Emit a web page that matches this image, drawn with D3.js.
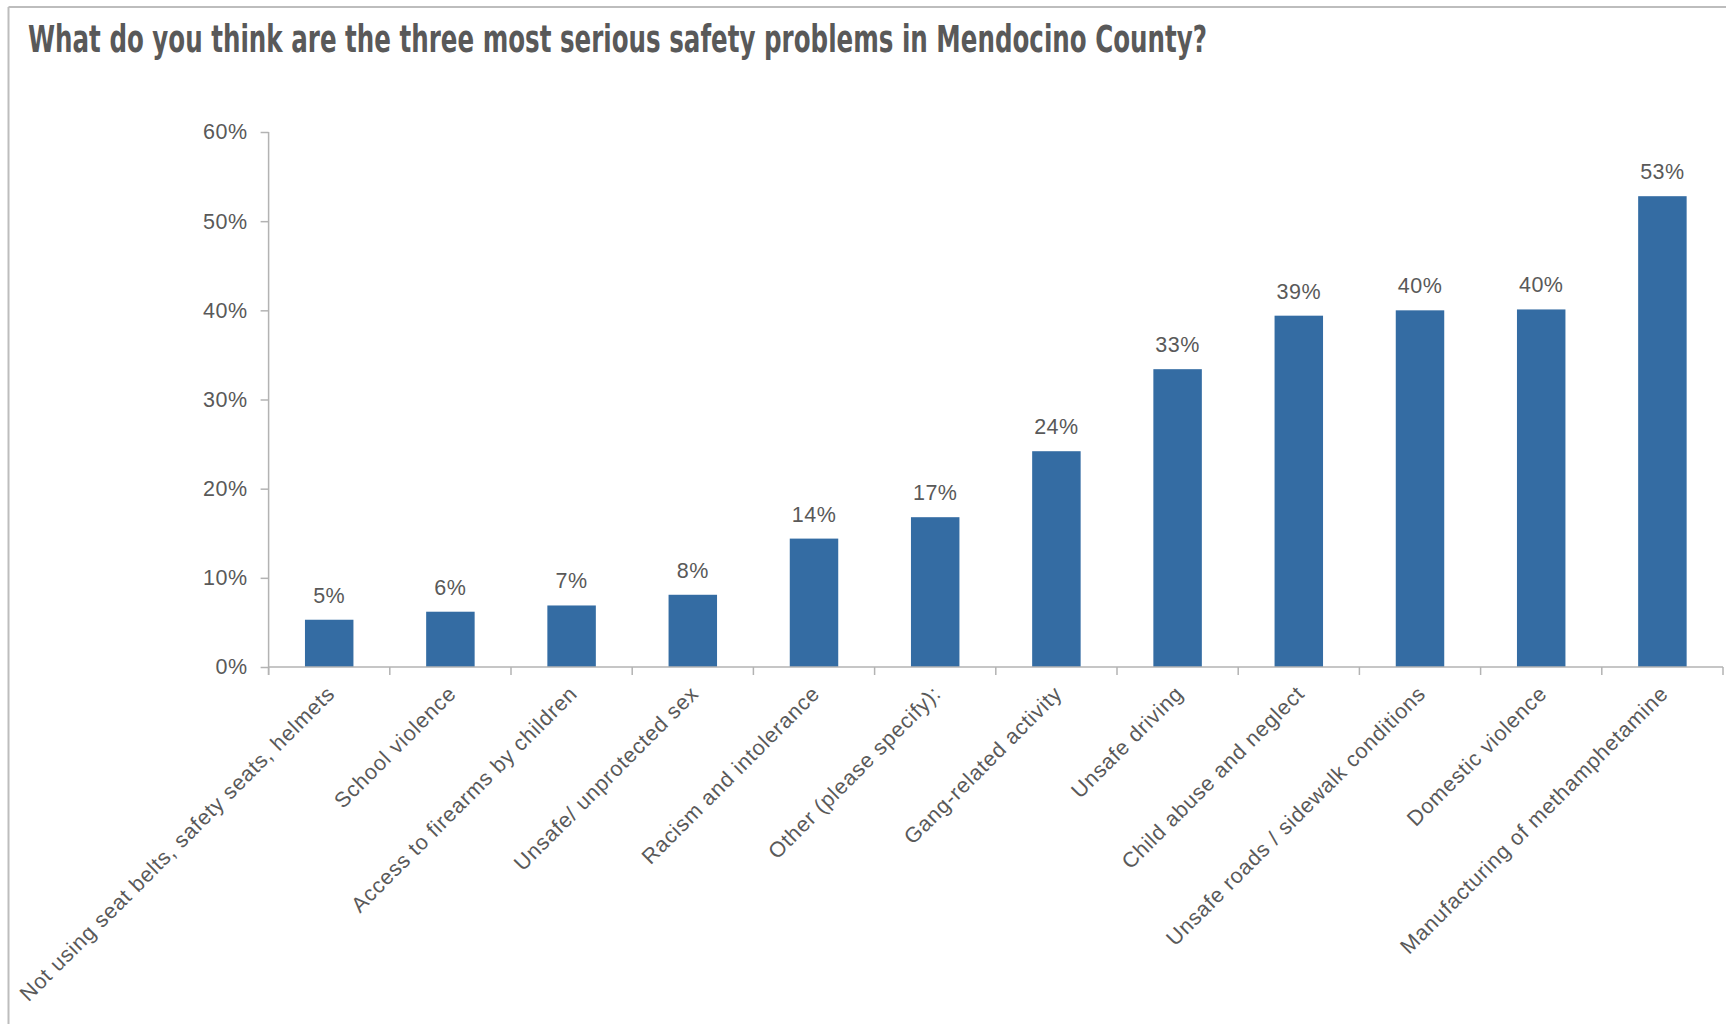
<!DOCTYPE html>
<html>
<head>
<meta charset="utf-8">
<script src="https://cdn.jsdelivr.net/npm/d3@7"></script>
<style>
  html, body { margin: 0; padding: 0; background: #ffffff; }
  svg { display: block; }
</style>
</head>
<body>
<svg id="chart" width="1726" height="1024"></svg>
<script>
const titleText = "What do you think are the three most serious safety problems in Mendocino County?";
const categories = [
  "Not using seat belts, safety seats, helmets",
  "School violence",
  "Access to firearms by children",
  "Unsafe/ unprotected sex",
  "Racism and intolerance",
  "Other (please specify):",
  "Gang-related activity",
  "Unsafe driving",
  "Child abuse and neglect",
  "Unsafe roads / sidewalk conditions",
  "Domestic violence",
  "Manufacturing of methamphetamine"
];
const values = [0.053, 0.062, 0.069, 0.081, 0.144, 0.168, 0.242, 0.334, 0.394, 0.400, 0.401, 0.528];
const yTicks = [0, 0.1, 0.2, 0.3, 0.4, 0.5, 0.6];

const svg = d3.select("#chart");
const textColor = "#595959";
const axisColor = "#b3b3b3";
const barColor = "#346ca3";
const fontBody = "'Liberation Sans', Arial, sans-serif";

// border
svg.append("line").attr("x1", 8.5).attr("x2", 1726).attr("y1", 7).attr("y2", 7)
  .attr("stroke", "#bdbdbd").attr("stroke-width", 2);
svg.append("line").attr("x1", 8.5).attr("x2", 8.5).attr("y1", 7).attr("y2", 1024)
  .attr("stroke", "#bdbdbd").attr("stroke-width", 2);

// title
svg.append("text")
  .attr("x", 28).attr("y", 52)
  .attr("fill", textColor)
  .attr("font-family", "'Liberation Sans Narrow', 'DejaVu Sans Condensed', 'Roboto Condensed', sans-serif")
  .attr("font-weight", "bold")
  .attr("font-size", 37)
  .attr("textLength", 1179)
  .attr("lengthAdjust", "spacingAndGlyphs")
  .text(titleText);

const x0 = 268.6, x1 = 1723, y0 = 667, y1 = 132;
const x = d3.scaleBand().domain(categories).range([x0, x1]).paddingInner(0.6).paddingOuter(0.3);
const y = d3.scaleLinear().domain([0, 0.6]).range([y0, y1]);
const step = x.step();
const fmt = d3.format(".0%");

// y axis
const yAxis = svg.append("g").attr("transform", `translate(${x0},0)`)
  .call(d3.axisLeft(y).tickValues(yTicks).tickFormat(fmt).tickSize(8).tickPadding(13));
yAxis.select(".domain").attr("stroke", axisColor).attr("stroke-width", 1.5).attr("d", `M0,${y1}V${y0 + 8}`);
yAxis.selectAll(".tick line").attr("stroke", axisColor).attr("stroke-width", 1.5);
yAxis.selectAll(".tick text").attr("fill", textColor).attr("font-family", fontBody)
  .attr("font-size", 21.5).attr("letter-spacing", 0.5);

// bars
svg.append("g").selectAll("rect").data(values).join("rect")
  .attr("x", (d, i) => x(categories[i]))
  .attr("y", d => y(d))
  .attr("width", x.bandwidth())
  .attr("height", d => y(0) - y(d))
  .attr("fill", barColor);

// x axis line and ticks at band boundaries
svg.append("line").attr("x1", x0).attr("x2", x1).attr("y1", y0).attr("y2", y0)
  .attr("stroke", axisColor).attr("stroke-width", 1.5);
svg.append("g").selectAll("line").data(d3.range(categories.length + 1)).join("line")
  .attr("x1", i => x0 + i * step).attr("x2", i => x0 + i * step)
  .attr("y1", y0).attr("y2", y0 + 8)
  .attr("stroke", axisColor).attr("stroke-width", 1.5);

// data labels
svg.append("g").selectAll("text").data(values).join("text")
  .attr("x", (d, i) => x(categories[i]) + x.bandwidth() / 2)
  .attr("y", d => y(d) - 17)
  .attr("text-anchor", "middle")
  .attr("fill", textColor)
  .attr("font-family", fontBody)
  .attr("font-size", 21.5)
  .attr("letter-spacing", 0.5)
  .text(d => fmt(d));

// category labels
svg.append("g").selectAll("text").data(categories).join("text")
  .attr("transform", d => `translate(${x(d) + x.bandwidth() / 2 + 7},${y0 + 28}) rotate(-45)`)
  .attr("text-anchor", "end")
  .attr("fill", textColor)
  .attr("font-family", fontBody)
  .attr("font-size", 21.5)
  .attr("letter-spacing", 0.75)
  .text(d => d);
</script>
</body>
</html>
